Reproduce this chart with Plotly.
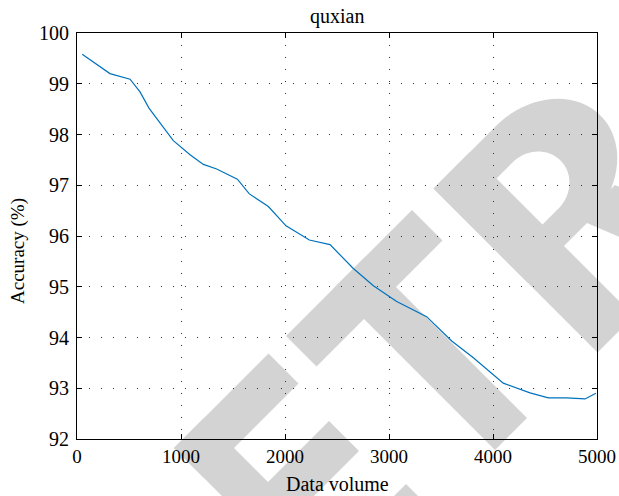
import numpy as np
import plotly.graph_objects as go

# ---- data ----
data_volume = [50, 317, 510, 606, 692, 926, 1087, 1215, 1343, 1542, 1657, 1840,
               2010, 2234, 2433, 2657, 2850, 3074, 3362, 3603, 3811, 4099, 4356,
               4532, 4708, 4885, 4990]
accuracy = [99.58, 99.20, 99.09, 98.84, 98.52, 97.88, 97.60, 97.41, 97.32, 97.12,
            96.83, 96.58, 96.20, 95.92, 95.83, 95.36, 95.02, 94.71, 94.41, 93.93,
            93.60, 93.10, 92.91, 92.81, 92.81, 92.79, 92.90]
x_ticks = [0, 1000, 2000, 3000, 4000, 5000]
y_ticks = [92, 93, 94, 95, 96, 97, 98, 99, 100]
title_text = "quxian"
x_title = "Data volume"
y_title = "Accuracy (%)"

# ---- layout geometry (page pixels) ----
W, H = 619, 496
L, R, T, B = 77, 597, 33, 439          # plot area
FONT = "Liberation Serif"

def to_paper(x, y):
    return (x - L) / (R - L), (B - y) / (B - T)

def pq_path(pts):
    # pts in rotated watermark coordinates (p = x - y, q = x + y), pixels
    segs = []
    for i, (p, q) in enumerate(pts):
        X, Y = to_paper((p + q) / 2, (q - p) / 2)
        segs.append(("M" if i == 0 else "L") + f"{X:.4f},{Y:.4f}")
    return " ".join(segs) + " Z"

def rect(p0, p1, q0, q1):
    return [(p0, q0), (p1, q0), (p1, q1), (p0, q1)]

def half_ellipse(p_left, pc, qc, rp, rq, n=40):
    pts = [(p_left, qc - rq)]
    for a in np.linspace(-np.pi / 2, np.pi / 2, n):
        pts.append((pc + rp * np.cos(a), qc + rq * np.sin(a)))
    pts.append((p_left, qc + rq))
    return pts

GRAY = "rgb(211,211,211)"
wm_gray = [
    rect(-274, -214, 622, 950),   # E spine
    rect(-274, -85, 622, 682),    # E top arm
    rect(-274, -92, 750, 810),    # E middle arm
    rect(-274, -78, 890, 950),    # E bottom arm
    rect(-50, 202, 622, 683),     # T bar
    rect(45, 109, 622, 945),      # T stem
    rect(245, 318, 622, 950),     # R spine
    half_ellipse(245, 370, 716, 115, 94),  # R bowl
    [(360, 800), (430, 800), (490, 950), (420, 950)],  # R leg
]
wm_white = [half_ellipse(318, 350, 721, 50, 46)]  # R counter

shapes = []
for pts in wm_gray:
    shapes.append(dict(type="path", path=pq_path(pts), xref="paper", yref="paper",
                       fillcolor=GRAY, line=dict(width=0), layer="below"))
for pts in wm_white:
    shapes.append(dict(type="path", path=pq_path(pts), xref="paper", yref="paper",
                       fillcolor="white", line=dict(width=0), layer="below"))

fig = go.Figure()
fig.add_trace(go.Scatter(x=data_volume, y=accuracy, mode="lines",
                         line=dict(color="#0072BD", width=1.2), showlegend=False,
                         hoverinfo="skip"))

axis_common = dict(
    showline=True, linecolor="black", linewidth=1, mirror="ticks",
    ticks="inside", ticklen=5, tickcolor="black", tickwidth=1,
    showgrid=True, gridcolor="#333333", gridwidth=1, griddash="1px,11px",
    zeroline=False, automargin=False,
)
fig.update_xaxes(range=[0, 5000], tickvals=x_ticks, ticktext=[str(v) for v in x_ticks],
                 tickfont=dict(family=FONT, size=19, color="black"), **axis_common)
fig.update_yaxes(range=[92, 100], tickvals=y_ticks, ticktext=[str(v) for v in y_ticks],
                 ticklabelstandoff=3, tickfont=dict(family=FONT, size=20, color="black"),
                 **axis_common)

tx, ty = to_paper(337, 16)
xx, xy = to_paper(337, 484)
yx, yy = to_paper(18, 251)
annotations = [
    dict(text=title_text, x=tx, y=ty, xref="paper", yref="paper", showarrow=False,
         xanchor="center", yanchor="middle", font=dict(family=FONT, size=20, color="black")),
    dict(text=x_title, x=xx, y=xy, xref="paper", yref="paper", showarrow=False,
         xanchor="center", yanchor="middle", font=dict(family=FONT, size=20, color="black")),
    dict(text=y_title, x=yx, y=yy, xref="paper", yref="paper", showarrow=False,
         textangle=-90, xanchor="center", yanchor="middle",
         font=dict(family=FONT, size=19, color="black")),
]

fig.update_layout(
    width=W, height=H, autosize=False,
    margin=dict(l=L, r=W - R, t=T, b=H - B, pad=0),
    paper_bgcolor="white", plot_bgcolor="rgba(0,0,0,0)",
    shapes=shapes, annotations=annotations,
)

fig.write_html("out.html", config={"displayModeBar": False},
               post_script="document.body.style.margin='0';document.body.style.overflow='hidden';")
